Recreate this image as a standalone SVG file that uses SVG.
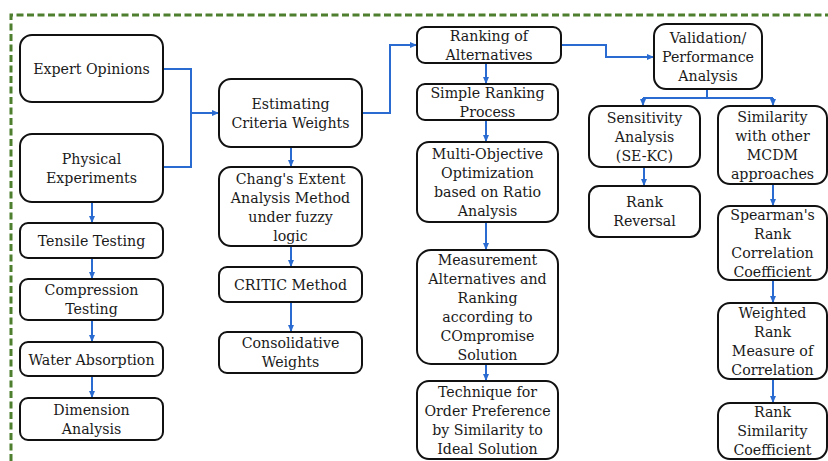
<svg xmlns="http://www.w3.org/2000/svg" width="828" height="461" viewBox="0 0 828 461">
<defs>
<marker id="ah" markerUnits="userSpaceOnUse" markerWidth="8" markerHeight="8" refX="7" refY="4" orient="auto">
<path d="M0,1 L7,4 L0,7 Z" fill="#2a6bd1"/>
</marker>
<style>
.box{fill:#fff;stroke:#111;stroke-width:2}
.t{font-family:"DejaVu Serif","Liberation Serif",serif;font-size:14.2px;fill:#1a1a1a;text-anchor:middle}
.c{fill:none;stroke:#2a6bd1;stroke-width:2}
.a{marker-end:url(#ah)}
</style>
</defs>
<rect x="0" y="0" width="828" height="461" fill="#fff"/>
<path d="M11,461 V15 H828" fill="none" stroke="#4e7f2e" stroke-width="3" stroke-dasharray="7,3.5"/>

<g id="connectors">
<path class="c" d="M163,69 H191 V167 H163"/>
<path class="c a" d="M191,113 H219"/>
<path class="c a" d="M362,113 H390 V45 H417"/>
<path class="c a" d="M561,45 H606 V57 H654"/>
<path class="c" d="M707,89 V98 M643,98 H773"/>
<path class="c a" d="M643,98 V106"/>
<path class="c a" d="M773,98 V106"/>
<path class="c a" d="M92,202 V223"/>
<path class="c a" d="M92,258 V279"/>
<path class="c a" d="M92,320 V342"/>
<path class="c a" d="M92,376 V398"/>
<path class="c a" d="M291,147 V167"/>
<path class="c a" d="M291,246 V267"/>
<path class="c a" d="M291,302 V332"/>
<path class="c a" d="M486,63 V84"/>
<path class="c a" d="M486,120 V142"/>
<path class="c a" d="M486,222 V250"/>
<path class="c a" d="M486,364 V381"/>
<path class="c a" d="M644,167 V186"/>
<path class="c a" d="M773,184 V206"/>
<path class="c a" d="M773,280 V303"/>
<path class="c a" d="M773,379 V403"/>
</g>

<g id="expert"><rect class="box" x="20" y="35" width="143" height="67" rx="12"/>
<text class="t" x="91.5" y="74">Expert Opinions</text></g>
<g id="physical"><rect class="box" x="20" y="134" width="143" height="68" rx="12"/>
<text class="t" x="91.5" y="164">Physical</text><text class="t" x="91.5" y="183">Experiments</text></g>
<g id="tensile"><rect class="box" x="20" y="223" width="143" height="35" rx="8"/>
<text class="t" x="91.5" y="246">Tensile Testing</text></g>
<g id="compression"><rect class="box" x="20" y="279" width="143" height="41" rx="8"/>
<text class="t" x="91.5" y="295">Compression</text><text class="t" x="91.5" y="314">Testing</text></g>
<g id="water"><rect class="box" x="20" y="342" width="143" height="34" rx="8"/>
<text class="t" x="91.5" y="364.5">Water Absorption</text></g>
<g id="dimension"><rect class="box" x="20" y="398" width="143" height="42" rx="8"/>
<text class="t" x="91.5" y="414.5">Dimension</text><text class="t" x="91.5" y="433.5">Analysis</text></g>

<g id="estimating"><rect class="box" x="219" y="79" width="143" height="68" rx="12"/>
<text class="t" x="290.5" y="109">Estimating</text><text class="t" x="290.5" y="128">Criteria Weights</text></g>
<g id="chang"><rect class="box" x="219" y="167" width="143" height="79" rx="12"/>
<text class="t" x="290.5" y="183.5">Chang's Extent</text><text class="t" x="290.5" y="202.5">Analysis Method</text><text class="t" x="290.5" y="221.5">under fuzzy</text><text class="t" x="290.5" y="240.5">logic</text></g>
<g id="critic"><rect class="box" x="219" y="267" width="143" height="35" rx="8"/>
<text class="t" x="290.5" y="290">CRITIC Method</text></g>
<g id="consolidative"><rect class="box" x="219" y="332" width="143" height="41" rx="8"/>
<text class="t" x="290.5" y="348">Consolidative</text><text class="t" x="290.5" y="367">Weights</text></g>

<g id="ranking"><rect class="box" x="417" y="27" width="144" height="36" rx="8"/>
<text class="t" x="489" y="41">Ranking of</text><text class="t" x="489" y="60">Alternatives</text></g>
<g id="simple"><rect class="box" x="417" y="84" width="141" height="36" rx="8"/>
<text class="t" x="487.5" y="98">Simple Ranking</text><text class="t" x="487.5" y="117">Process</text></g>
<g id="moora"><rect class="box" x="417" y="142" width="141" height="80" rx="12"/>
<text class="t" x="487.5" y="159">Multi-Objective</text><text class="t" x="487.5" y="178">Optimization</text><text class="t" x="487.5" y="197">based on Ratio</text><text class="t" x="487.5" y="216">Analysis</text></g>
<g id="marcos"><rect class="box" x="417" y="250" width="141" height="114" rx="14"/>
<text class="t" x="487.5" y="264.5">Measurement</text><text class="t" x="487.5" y="283.5">Alternatives and</text><text class="t" x="487.5" y="302.5">Ranking</text><text class="t" x="487.5" y="321.5">according to</text><text class="t" x="487.5" y="340.5">COmpromise</text><text class="t" x="487.5" y="359.5">Solution</text></g>
<g id="topsis"><rect class="box" x="417" y="381" width="141" height="78" rx="12"/>
<text class="t" x="487.5" y="397">Technique for</text><text class="t" x="487.5" y="416">Order Preference</text><text class="t" x="487.5" y="435">by Similarity to</text><text class="t" x="487.5" y="454">Ideal Solution</text></g>

<g id="validation"><rect class="box" x="654" y="24" width="108" height="65" rx="12"/>
<text class="t" x="708" y="43">Validation/</text><text class="t" x="708" y="62">Performance</text><text class="t" x="708" y="81">Analysis</text></g>
<g id="sensitivity"><rect class="box" x="589" y="106" width="111" height="61" rx="12"/>
<text class="t" x="644.5" y="123">Sensitivity</text><text class="t" x="644.5" y="142">Analysis</text><text class="t" x="644.5" y="161">(SE-KC)</text></g>
<g id="reversal"><rect class="box" x="589" y="186" width="111" height="51" rx="10"/>
<text class="t" x="644.5" y="207">Rank</text><text class="t" x="644.5" y="226">Reversal</text></g>
<g id="similarity"><rect class="box" x="718" y="106" width="109" height="78" rx="12"/>
<text class="t" x="772.5" y="122">Similarity</text><text class="t" x="772.5" y="141">with other</text><text class="t" x="772.5" y="160">MCDM</text><text class="t" x="772.5" y="179">approaches</text></g>
<g id="spearman"><rect class="box" x="718" y="206" width="109" height="74" rx="12"/>
<text class="t" x="772.5" y="220">Spearman's</text><text class="t" x="772.5" y="239">Rank</text><text class="t" x="772.5" y="258">Correlation</text><text class="t" x="772.5" y="277">Coefficient</text></g>
<g id="weighted"><rect class="box" x="718" y="303" width="109" height="76" rx="12"/>
<text class="t" x="772.5" y="318">Weighted</text><text class="t" x="772.5" y="337">Rank</text><text class="t" x="772.5" y="356">Measure of</text><text class="t" x="772.5" y="375">Correlation</text></g>
<g id="rsc"><rect class="box" x="718" y="403" width="109" height="56" rx="12"/>
<text class="t" x="772.5" y="416.5">Rank</text><text class="t" x="772.5" y="435.5">Similarity</text><text class="t" x="772.5" y="454.5">Coefficient</text></g>
</svg>
